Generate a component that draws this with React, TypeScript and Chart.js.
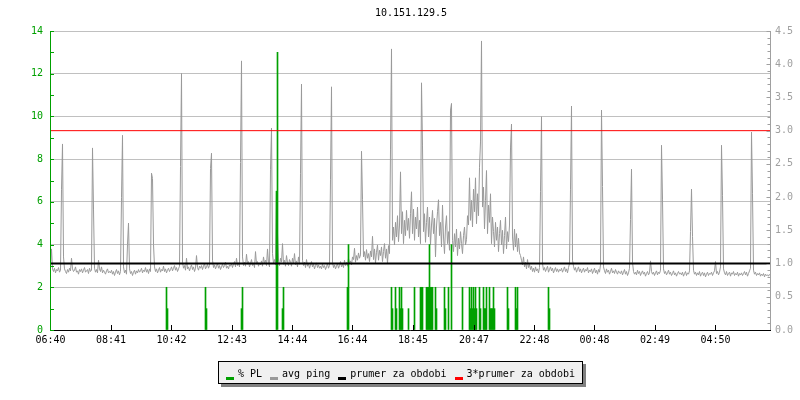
import React, { useEffect, useRef } from "react";
import { Chart, registerables } from "chart.js";

Chart.register(...registerables);

const TITLE = "10.151.129.5";
const STEP_MIN = 2;
const X_MIN = -1;
const X_MAX = 1439;

const tickMinutes = [0, 121, 242, 363, 484, 604, 725, 847, 968, 1088, 1209, 1330];
const tickLabels = ["06:40", "08:41", "10:42", "12:43", "14:44", "16:44", "18:45", "20:47", "22:48", "00:48", "02:49", "04:50"];

// avg ping (ms), one sample every 2 minutes
const ping0640 = [
  0.95,1.22,0.92,0.88,0.93,0.86,0.91,0.89,0.94,0.87,0.90,2.11,2.80,1.10,0.92,0.88,0.85,0.91,0.87,0.93,0.89,1.08,0.92,0.88,0.90,0.95,0.87,0.89,0.84,0.91,
  0.88,0.92,0.86,0.90,0.94,0.87,0.89,0.91,0.85,0.93,0.88,0.90,2.74,1.82,0.93,0.87,0.91,0.86,1.05,0.92,0.88,0.95,0.86,0.90,0.87,0.84,0.89,0.92,0.86,0.88,
  0.86,0.90,0.84,0.88,0.82,0.87,0.91,0.85,0.89,0.83,0.88,1.99,2.93,0.95,0.86,0.90,0.84,1.29,1.61,0.92,0.85,0.88,0.82,0.87,0.90,0.84,0.89,0.86,0.91,0.87,
  0.89,0.93,0.86,0.90,0.88,0.94,0.87,0.91,0.85,0.92,0.88,2.36,2.28,1.29,0.95,0.88,0.92,0.86,0.90,0.94,0.87,0.91,0.89,0.96,0.88,0.92,0.86,0.90,0.93,0.88,
  0.91,0.95,0.89,0.93,0.97,0.90,0.94,0.88,0.92,0.96,2.46,3.86,1.02,0.93,0.97,0.90,1.08,0.92,0.95,0.89,0.94,0.98,0.91,0.95,0.88,0.93,1.12,0.94,0.90,0.96,
  0.93,0.97,0.91,0.96,1.00,0.92,0.95,0.99,0.93,0.97,2.43,2.66,1.05,0.94,0.98,0.92,0.96,1.00,0.93,0.97,0.91,0.95,0.99,0.94,0.97,1.02,0.93,0.96,0.92,0.98,
];
const ping1240 = [
  0.96,1.00,0.94,0.99,1.03,0.95,1.08,0.97,1.01,0.95,2.52,4.05,1.10,0.97,1.02,0.96,1.14,0.99,1.03,0.95,1.00,1.06,0.97,1.01,0.94,1.18,0.99,1.03,0.96,1.01,
  0.98,1.04,0.96,1.10,1.00,1.05,0.97,1.22,1.01,0.95,2.42,3.04,1.15,1.00,1.06,0.98,2.09,1.45,1.03,0.97,1.08,1.02,1.30,0.99,1.05,0.96,1.12,1.01,0.97,1.06,
  1.02,0.96,1.08,1.00,1.15,0.98,1.04,0.95,1.10,0.99,2.36,3.70,1.05,0.97,1.02,0.94,1.06,0.96,1.00,0.93,0.98,1.03,0.95,0.99,0.92,0.97,1.01,0.94,0.98,0.93,
  0.96,0.92,0.99,0.94,0.97,0.91,0.95,1.00,0.93,0.97,2.27,3.66,1.02,0.94,0.98,0.92,0.96,1.00,0.93,0.97,1.03,0.95,0.99,0.94,1.05,0.97,1.02,0.96,1.08,1.00,
  1.04,0.98,1.10,1.06,1.23,1.02,1.12,1.05,1.16,1.08,1.13,2.69,1.96,1.10,1.18,1.05,1.21,1.08,1.15,1.03,1.19,1.10,1.41,1.06,1.22,1.01,1.17,1.28,1.05,1.20,
  1.12,1.25,1.03,1.18,1.30,1.08,1.22,1.00,1.27,1.15,2.71,4.23,1.35,1.55,1.28,1.62,1.40,1.72,1.33,1.58,2.38,1.45,1.78,1.30,1.65,1.42,1.80,1.50,1.68,1.38,
];
const ping1840 = [
  1.75,2.08,1.45,1.82,1.35,1.70,1.52,1.85,1.40,1.65,1.30,3.72,2.77,1.48,1.75,1.32,1.62,1.85,1.40,1.70,1.28,1.58,1.80,1.45,1.68,1.10,1.55,1.78,1.96,1.42,
  1.62,1.25,1.88,1.40,1.15,1.55,1.72,1.30,1.48,1.20,3.31,3.41,1.35,1.18,1.45,1.25,1.52,1.12,1.38,1.22,1.48,1.30,1.15,1.42,1.55,1.28,1.36,1.72,1.58,2.29,
  1.65,1.95,1.55,2.12,1.78,2.29,1.60,2.05,1.72,2.45,2.83,4.35,1.85,2.15,1.52,1.95,2.40,1.45,1.88,1.62,2.05,1.30,1.70,1.48,1.25,1.62,1.35,1.55,1.18,1.45,
  1.65,1.28,1.50,1.15,1.42,1.70,1.22,1.48,1.33,1.58,2.74,3.10,1.40,1.20,1.52,1.25,1.45,1.18,1.38,1.16,1.12,1.05,0.98,1.10,0.95,1.02,0.92,1.06,0.94,0.99,
  0.91,0.96,0.88,0.93,0.87,0.95,0.89,0.92,0.86,0.94,2.08,3.21,1.00,0.90,0.94,0.88,0.92,0.96,0.87,0.91,0.95,0.89,0.93,0.86,0.90,0.94,0.88,0.92,0.87,0.91,
  0.89,0.93,0.87,0.91,0.95,0.88,0.92,0.86,0.94,1.00,2.12,3.37,1.05,0.96,0.90,0.94,0.87,0.91,0.95,0.88,0.92,0.86,0.90,0.93,0.87,0.91,0.89,0.94,0.86,0.90,
];
const ping0040 = [
  0.88,0.92,0.85,0.89,0.93,0.86,0.90,0.84,0.91,0.87,0.98,3.31,2.16,0.95,0.89,0.85,0.92,0.87,0.90,0.84,0.88,0.93,0.86,0.89,0.85,0.91,0.87,0.84,0.89,0.86,
  0.85,0.89,0.83,0.87,0.91,0.84,0.88,0.82,0.86,0.93,1.66,2.42,1.02,0.88,0.84,0.87,0.83,0.90,0.85,0.88,0.82,0.86,0.89,0.84,0.87,0.81,0.85,0.88,0.83,0.86,
  1.04,0.88,0.84,0.87,0.82,0.86,0.89,0.83,0.87,0.85,0.90,2.78,1.97,0.92,0.85,0.88,0.83,0.86,0.90,0.84,0.87,0.82,0.85,0.89,0.83,0.86,0.81,0.85,0.88,0.84,
  0.86,0.83,0.87,0.81,0.85,0.88,0.82,0.86,0.84,0.89,1.48,2.12,1.41,0.90,0.84,0.87,0.82,0.86,0.83,0.88,0.81,0.85,0.87,0.82,0.86,0.80,0.84,0.87,0.82,0.85,
  0.84,0.87,0.82,0.86,0.89,1.03,0.85,0.88,0.83,0.87,0.95,2.78,2.02,0.92,0.86,0.83,0.88,0.82,0.85,0.87,0.81,0.86,0.84,0.88,0.82,0.85,0.83,0.87,0.81,0.85,
  0.83,0.86,0.82,0.85,0.88,0.83,0.87,0.81,0.85,0.89,0.93,2.98,2.05,0.90,0.84,0.87,0.82,0.85,0.83,0.86,0.81,0.84,0.82,0.85,0.80,0.84,0.82,0.83,0.81,0.84,
];

// packet loss (%), only the non-zero samples (sample index, value)
const plSample = [116,117,155,156,191,192,226,227,232,233,297,298,341,342,345,346,349,350,351,352,358,364,370,371,372,376,377,378,379,380,381,382,385,386,394,395,398,401,412,419,420,421,422,423,424,425,426,429,430,433,434,435,436,439,440,441,442,443,444,457,458,465,466,467,498,499];
const plPercent = [2,1,2,1,1,2,6.5,13,1,2,2,4,2,1,2,1,2,1,2,1,1,2,2,2,2,2,2,2,4,2,2,2,2,1,2,1,2,4,2,2,1,2,1,2,1,2,1,2,1,2,1,1,2,2,1,1,1,2,1,2,1,2,1,2,2,1];

const avgPing = 1.0;
const avgPing3 = 3.0;

const legendLabels = ["% PL", "avg ping", "prumer za obdobi", "3*prumer za obdobi"];
const GREEN = "#00a000";
const GRAYLINE = "#999999";
const GRID = "#c0c0c0";
const RGRAY = "#a0a0a0";
const legendColors = [GREEN, GRAYLINE, "#000000", "#ff0000"];
const FONT_FAMILY = "'DejaVu Sans Mono', monospace";
const FONT = "10px " + FONT_FAMILY;

const decor = {
  id: "decor",
  afterDatasetsDraw(chart: any) {
    const { ctx, chartArea: a, scales } = chart;
    const xs = scales.x, yl = scales.y, yr = scales.y1;
    const L = Math.round(a.left), R = Math.round(a.right), T = Math.round(a.top), B = Math.round(a.bottom);
    ctx.save();
    ctx.lineWidth = 1;
    // right axis
    ctx.strokeStyle = RGRAY;
    ctx.beginPath();
    ctx.moveTo(R + 0.5, T);
    ctx.lineTo(R + 0.5, B + 1);
    for (let k = 0; k <= 45; k++) {
      const y = Math.round(yr.getPixelForValue(k / 10)) + 0.5;
      const len = k % 5 === 0 ? 4 : 3;
      ctx.moveTo(R + 0.5 - len, y);
      ctx.lineTo(R + 1, y);
    }
    ctx.stroke();
    // bottom axis
    ctx.strokeStyle = "#000";
    ctx.beginPath();
    ctx.moveTo(L, B + 0.5);
    ctx.lineTo(R + 1, B + 0.5);
    tickMinutes.forEach((t) => {
      const x = Math.round(xs.getPixelForValue(t) - 0.5) + 0.5;
      ctx.moveTo(x, B);
      ctx.lineTo(x, B - 5);
    });
    ctx.stroke();
    // left axis
    ctx.strokeStyle = GREEN;
    ctx.beginPath();
    ctx.moveTo(L + 0.5, T);
    ctx.lineTo(L + 0.5, B + 1);
    for (let v = 0; v <= 14; v++) {
      const y = Math.round(yl.getPixelForValue(v)) + 0.5;
      ctx.moveTo(L, y);
      ctx.lineTo(L + 4, y);
    }
    ctx.stroke();
    ctx.restore();
  },
  afterDraw(chart: any) {
    const ctx = chart.ctx;
    ctx.save();
    ctx.font = FONT;
    ctx.fillStyle = "#000";
    ctx.textAlign = "center";
    ctx.textBaseline = "middle";
    ctx.fillText(TITLE, 411, 13);

    const widths = legendLabels.map((s) => ctx.measureText(s).width);
    const MARK = 8, GAP = 4, SEP = 8, PAD = 8;
    const inner = widths.reduce((s, w) => s + MARK + GAP + w, 0) + SEP * (legendLabels.length - 1);
    const bw = Math.round(inner + 2 * PAD);
    const bh = 23;
    const bx = Math.round(400 - bw / 2);
    const by = 361;
    ctx.fillStyle = "#808080";
    ctx.fillRect(bx + 3, by + 3, bw, bh);
    ctx.fillStyle = "#f0f0f0";
    ctx.fillRect(bx, by, bw, bh);
    ctx.strokeStyle = "#000";
    ctx.lineWidth = 1;
    ctx.strokeRect(bx + 0.5, by + 0.5, bw - 1, bh - 1);
    let x = bx + PAD;
    ctx.textAlign = "left";
    legendLabels.forEach((lab, k) => {
      ctx.fillStyle = legendColors[k];
      ctx.fillRect(Math.round(x), by + 16, MARK, 3);
      x += MARK + GAP;
      ctx.fillStyle = "#000";
      ctx.fillText(lab, x, by + 13);
      x += widths[k] + SEP;
    });
    ctx.restore();
  },
};

export default function App() {
  const ref = useRef<HTMLCanvasElement>(null);
  useEffect(() => {
    const canvas = ref.current;
    if (!canvas) return;
    const pingAll = [...ping0640, ...ping1240, ...ping1840, ...ping0040];
    const pingData = pingAll.map((v, i) => ({ x: i * STEP_MIN, y: v }));
    const plData = plSample.map((s, k) => ({ x: s * STEP_MIN, y: plPercent[k] }));
    const tickFont = { family: FONT_FAMILY, size: 10 };

    const chart = new Chart(canvas, {
      type: "line",
      data: {
        datasets: [
          {
            type: "bar",
            label: legendLabels[0],
            data: plData,
            yAxisID: "y",
            backgroundColor: GREEN,
            borderWidth: 0,
            barThickness: 1,
            grouped: false,
            order: 3,
          },
          {
            label: legendLabels[1],
            data: pingData,
            yAxisID: "y1",
            borderColor: GRAYLINE,
            borderWidth: 1,
            pointRadius: 0,
            tension: 0,
            fill: false,
            order: 4,
          },
          {
            label: legendLabels[2],
            data: [{ x: X_MIN, y: avgPing }, { x: X_MAX, y: avgPing }],
            yAxisID: "y1",
            borderColor: "#000000",
            borderWidth: 2,
            pointRadius: 0,
            fill: false,
            order: 2,
          },
          {
            label: legendLabels[3],
            data: [{ x: X_MIN, y: avgPing3 }, { x: X_MAX, y: avgPing3 }],
            yAxisID: "y1",
            borderColor: "#ff0000",
            borderWidth: 1,
            pointRadius: 0,
            fill: false,
            order: 1,
          },
        ],
      },
      options: {
        responsive: false,
        animation: false,
        devicePixelRatio: 1,
        layout: { padding: { top: 31, left: 0, right: 0, bottom: 0 } },
        plugins: {
          legend: { display: false },
          title: { display: false },
          tooltip: { enabled: false },
        },
        scales: {
          x: {
            type: "linear",
            min: X_MIN,
            max: X_MAX,
            offset: false,
            afterBuildTicks: (s: any) => {
              s.ticks = tickMinutes.map((v) => ({ value: v }));
            },
            afterFit: (s: any) => {
              s.height = 70;
            },
            grid: { display: false, drawTicks: false },
            border: { display: false },
            ticks: {
              autoSkip: false,
              maxRotation: 0,
              minRotation: 0,
              padding: 4,
              color: "#000",
              font: tickFont,
              callback: (v: any) => {
                const k = tickMinutes.indexOf(Number(v));
                return k >= 0 ? tickLabels[k] : "";
              },
            },
          },
          y: {
            position: "left",
            min: 0,
            max: 14,
            afterFit: (s: any) => {
              s.width = 50;
            },
            grid: { color: GRID, drawTicks: false },
            border: { display: false },
            ticks: { stepSize: 2, padding: 7, color: GREEN, font: tickFont },
          },
          y1: {
            position: "right",
            min: 0,
            max: 4.5,
            afterFit: (s: any) => {
              s.width = 30;
            },
            grid: { display: false, drawTicks: false },
            border: { display: false },
            ticks: {
              stepSize: 0.5,
              padding: 5,
              color: RGRAY,
              font: tickFont,
              callback: (v: any) => Number(v).toFixed(1),
            },
          },
        },
      } as any,
      plugins: [decor],
    });
    return () => chart.destroy();
  }, []);

  return (
    <div style={{ position: "absolute", left: 0, top: 0, width: 800, height: 400, background: "#fff" }}>
      <canvas ref={ref} width={800} height={400} style={{ display: "block" }} />
    </div>
  );
}
